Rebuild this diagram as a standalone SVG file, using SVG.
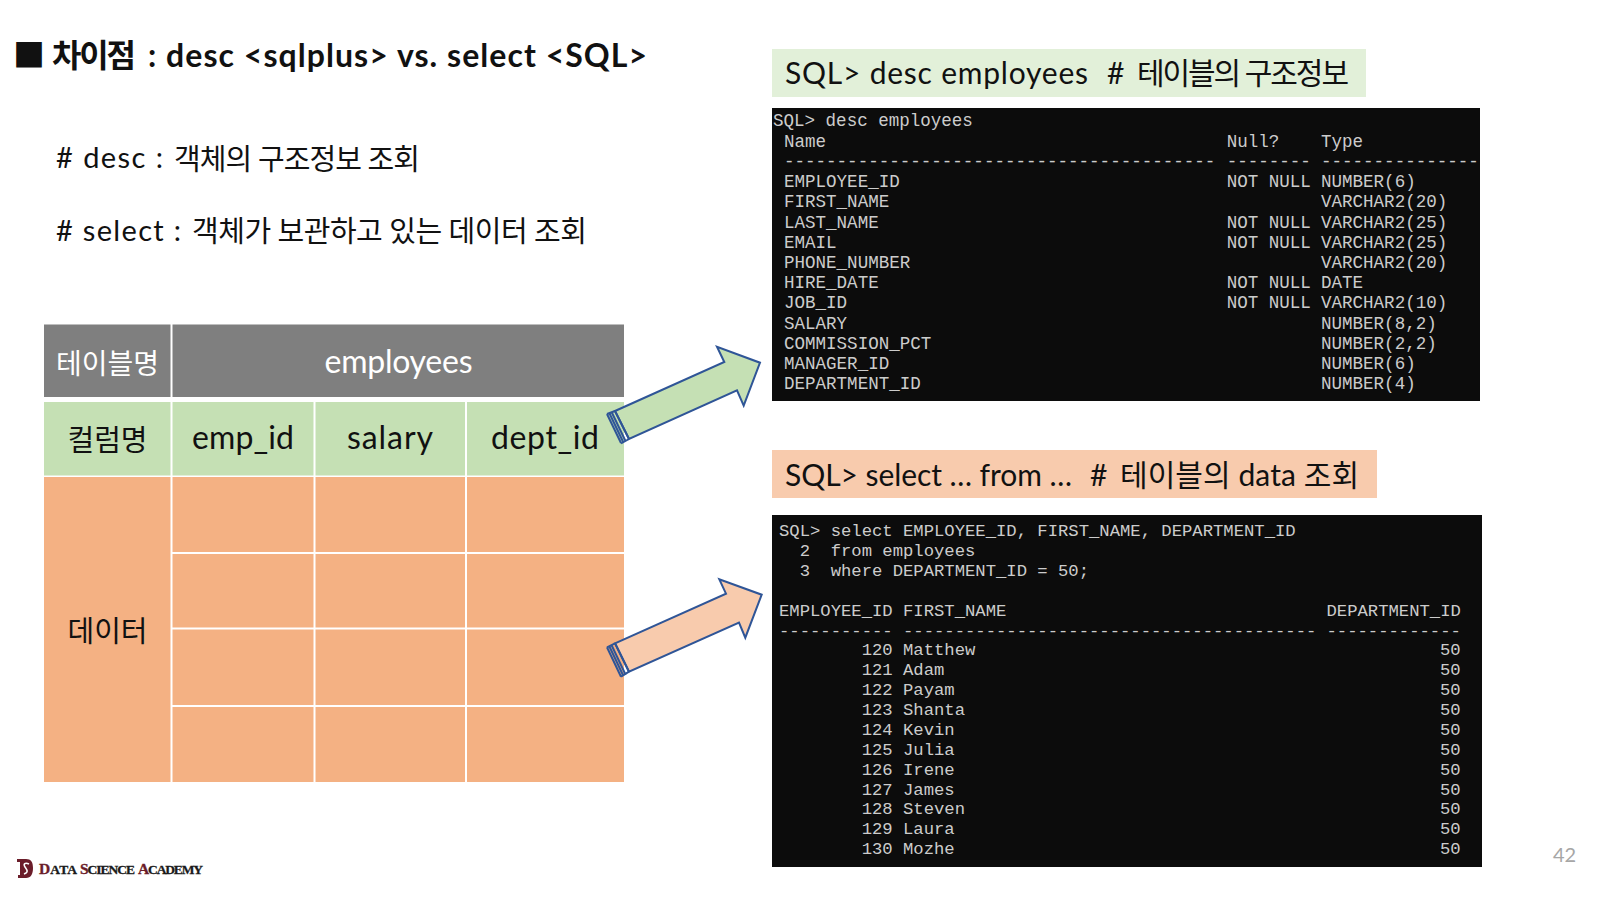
<svg xmlns="http://www.w3.org/2000/svg" width="1600" height="900" viewBox="0 0 1600 900">
<defs><style>
.t{font-family:"Lato","Noto Sans CJK KR",sans-serif;fill:#111}
.m{font-family:"Liberation Mono",monospace;fill:#ccc}
.m1{font-size:17.55px}.m2{font-size:17.23px}
.c{text-anchor:middle;font-size:29px}
.l{font-size:32px}
.gl{stroke:#fff;stroke-width:2}
.ar{stroke:#2f5597;stroke-width:2;stroke-linejoin:miter}
.st{stroke:#2f5597;stroke-width:2;fill:none}
.lg{font-family:"Liberation Serif",serif;font-weight:700;font-size:13.500px;fill:#1a1a1a;stroke:#1a1a1a;stroke-width:.3px}
.lg tspan{fill:#6b1d2a;stroke:#6b1d2a;font-size:15.500px}
</style></defs>
<rect width="1600" height="900" fill="#fff"/>
<g id="title"><text class="t" y="67" font-size="32" font-weight="700"><tspan x="13">■</tspan><tspan x="52" textLength="84">차이점</tspan><tspan x="148" textLength="499">: desc &lt;sqlplus&gt; vs. select &lt;SQL&gt;</tspan></text></g>
<g id="notes">
<text class="t" y="168" font-size="29"><tspan x="56" textLength="107"># desc :</tspan><tspan x="174" y="169.500" textLength="246">객체의 구조정보 조회</tspan></text>
<text class="t" y="241" font-size="29"><tspan x="56" textLength="125"># select :</tspan><tspan x="192" y="242" textLength="395">객체가 보관하고 있는 데이터 조회</tspan></text>
</g>
<g id="table">
<rect x="44" y="324.500" width="580" height="72.500" fill="#7f7f7f"/>
<rect x="44" y="402" width="580" height="73.500" fill="#c5e0b4"/>
<rect x="44" y="477" width="580" height="305" fill="#f4b183"/>
<path class="gl" d="M171.500 324V782M314.500 402V782M466 402V782M172 553H624M172 628.500H624M172 706H624"/>
<text class="t c" x="107.500" y="374" style="fill:#fff;font-size:28px">테이블명</text>
<text class="t c l" x="398.500" y="373" style="fill:#fff" textLength="148">employees</text>
<text class="t c" x="107.500" y="451">컬럼명</text>
<text class="t c l" x="243" y="449" textLength="102">emp_id</text>
<text class="t c l" x="390" y="449" textLength="86">salary</text>
<text class="t c l" x="545" y="449" textLength="108">dept_id</text>
<text class="t c" x="107.500" y="642">데이터</text>
</g>
<g id="connectors">
<path class="ar" fill="#c5e0b4" d="M615 411L724.300 362L717 346.700L760 362.700L743.700 405.700L737 390.300L629 439Z"/>
<path class="st" d="M607 414L621 443M609.300 413L623.300 442.300M611.600 412L625.600 441.300M615 411L629 439"/>
<path class="st" d="M607 414L615 411M621 443.500L629 439"/>
<path class="ar" fill="#f8cbad" d="M615 643.300L726 593.700L719.300 579.300L761.700 594.700L745.300 637.700L739 622.700L629 671.700Z"/>
<path class="st" d="M607 647.300L621 676.700M609.300 646.300L623.300 675.700M611.600 645.300L625.600 674.700M615 643.300L629 671.700"/>
<path class="st" d="M607 647.300L615 643.300M621 676.700L629 671.700"/>
</g>
<g id="desc-label">
<rect x="772" y="49" width="594" height="48" fill="#e2f0d9"/>
<text class="t" y="84" font-size="30"><tspan x="785" textLength="303">SQL&gt; desc employees</tspan><tspan x="1107">#</tspan><tspan x="1137" textLength="212">테이블의 구조정보</tspan></text>
</g>
<g id="desc-terminal">
<rect x="772" y="108" width="708" height="293" fill="#0c0c0c"/>
<g class="m m1">
<text x="773" y="126">SQL&gt; desc employees</text>
<text x="784" y="147">Name<tspan x="1226.700">Null?</tspan><tspan x="1321">Type</tspan></text>
<text x="784" y="167">-----------------------------------------<tspan x="1226.700">--------</tspan><tspan x="1321">---------------</tspan></text>
<text x="784" y="187">EMPLOYEE_ID<tspan x="1226.700">NOT NULL</tspan><tspan x="1321">NUMBER(6)</tspan></text>
<text x="784" y="207">FIRST_NAME<tspan x="1321">VARCHAR2(20)</tspan></text>
<text x="784" y="228">LAST_NAME<tspan x="1226.700">NOT NULL</tspan><tspan x="1321">VARCHAR2(25)</tspan></text>
<text x="784" y="248">EMAIL<tspan x="1226.700">NOT NULL</tspan><tspan x="1321">VARCHAR2(25)</tspan></text>
<text x="784" y="268">PHONE_NUMBER<tspan x="1321">VARCHAR2(20)</tspan></text>
<text x="784" y="288">HIRE_DATE<tspan x="1226.700">NOT NULL</tspan><tspan x="1321">DATE</tspan></text>
<text x="784" y="308">JOB_ID<tspan x="1226.700">NOT NULL</tspan><tspan x="1321">VARCHAR2(10)</tspan></text>
<text x="784" y="329">SALARY<tspan x="1321">NUMBER(8,2)</tspan></text>
<text x="784" y="349">COMMISSION_PCT<tspan x="1321">NUMBER(2,2)</tspan></text>
<text x="784" y="369">MANAGER_ID<tspan x="1321">NUMBER(6)</tspan></text>
<text x="784" y="389">DEPARTMENT_ID<tspan x="1321">NUMBER(4)</tspan></text>
</g>
</g>
<g id="select-label">
<rect x="772" y="450" width="605" height="48" fill="#f8cbad"/>
<text class="t" y="486" font-size="30"><tspan x="785" textLength="287">SQL&gt; select … from …</tspan><tspan x="1090">#</tspan><tspan x="1120" textLength="239">테이블의 data 조회</tspan></text>
</g>
<g id="select-terminal">
<rect x="772" y="515" width="710" height="352" fill="#0c0c0c"/>
<g class="m m2">
<text x="779" y="536">SQL&gt; select EMPLOYEE_ID, FIRST_NAME, DEPARTMENT_ID</text>
<text x="799.700" y="556">2<tspan x="830.700">from employees</tspan></text>
<text x="799.700" y="576">3<tspan x="830.700">where DEPARTMENT_ID = 50;</tspan></text>
<text x="779" y="616">EMPLOYEE_ID<tspan x="903">FIRST_NAME</tspan><tspan x="1326.500">DEPARTMENT_ID</tspan></text>
<text x="779" y="636">-----------<tspan x="903">----------------------------------------</tspan><tspan x="1326.500">-------------</tspan></text>
<text x="861.700" y="655">120<tspan x="903">Matthew</tspan><tspan x="1440">50</tspan></text>
<text x="861.700" y="675">121<tspan x="903">Adam</tspan><tspan x="1440">50</tspan></text>
<text x="861.700" y="695">122<tspan x="903">Payam</tspan><tspan x="1440">50</tspan></text>
<text x="861.700" y="715">123<tspan x="903">Shanta</tspan><tspan x="1440">50</tspan></text>
<text x="861.700" y="735">124<tspan x="903">Kevin</tspan><tspan x="1440">50</tspan></text>
<text x="861.700" y="755">125<tspan x="903">Julia</tspan><tspan x="1440">50</tspan></text>
<text x="861.700" y="775">126<tspan x="903">Irene</tspan><tspan x="1440">50</tspan></text>
<text x="861.700" y="795">127<tspan x="903">James</tspan><tspan x="1440">50</tspan></text>
<text x="861.700" y="814">128<tspan x="903">Steven</tspan><tspan x="1440">50</tspan></text>
<text x="861.700" y="834">129<tspan x="903">Laura</tspan><tspan x="1440">50</tspan></text>
<text x="861.700" y="854">130<tspan x="903">Mozhe</tspan><tspan x="1440">50</tspan></text>
</g>
</g>
<g id="logo">
<path fill="#6b1d2a" d="M17 859H26C31 859 33 862 33 868C33 874 31 878 26 878H18V875H20V862H17Z"/>
<path fill="none" stroke="#fff" stroke-width="1.500" d="M29 864C25 862 23 864 25 867C27 870 29 872 24 874"/>
<text class="lg" x="39" y="874" textLength="38"><tspan>D</tspan>ATA</text>
<text class="lg" x="80" y="874" textLength="55"><tspan>S</tspan>CIENCE</text>
<text class="lg" x="138" y="874" textLength="65"><tspan>A</tspan>CADEMY</text>
</g>
<g id="page-number"><text x="1553" y="862" font-family="Lato,sans-serif" font-size="20" fill="#a6a6a6">42</text></g>
</svg>
